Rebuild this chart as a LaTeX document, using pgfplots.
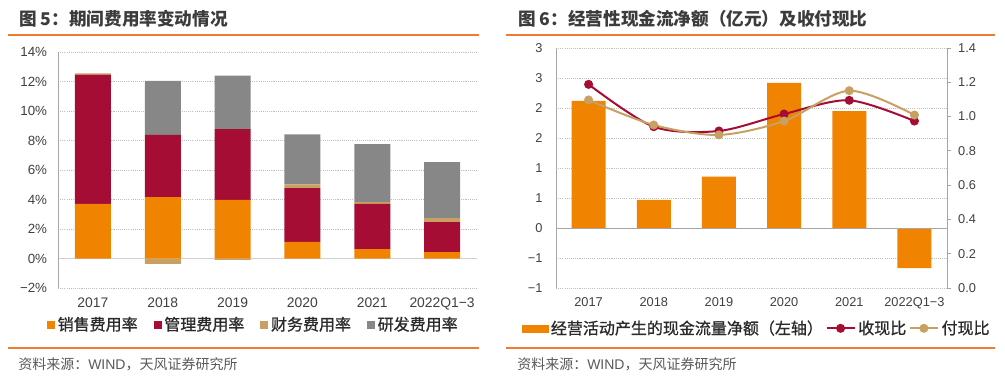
\documentclass[border=0pt]{standalone}
\usepackage{pgfplots}
\pgfplotsset{compat=1.18}
\usepackage{pgfplotstable}
\usepackage{fontspec}
\setmainfont{Liberation Sans}
\newfontfamily\cjk{Noto Sans CJK SC}
\newfontfamily\cjkm[FakeBold=0.9]{Noto Sans CJK SC}
\definecolor{cOr}{HTML}{F08300}
\definecolor{cRed}{HTML}{A50D34}
\definecolor{cTan}{HTML}{C8A064}
\definecolor{cGray}{HTML}{878787}
\definecolor{cTxt}{HTML}{404040}
\definecolor{cLeg}{HTML}{2A2A2A}
\definecolor{cTitle}{HTML}{3C3C3C}
\definecolor{cSrc}{HTML}{595959}
\definecolor{cLine}{HTML}{ED7D31}
\definecolor{cGrid}{HTML}{BFBFBF}
\definecolor{cAx}{HTML}{A6A6A6}
\definecolor{cZero}{HTML}{D0D0D0}

\pgfplotstableread{
x xiao guan cai yan caineg
0 3.70 8.75 0.11 0.00 0
1 4.16 4.23 0.00 3.66 -0.36
2 3.98 4.79 0.00 3.63 -0.10
3 1.13 3.64 0.25 3.39 0
4 0.63 3.08 0.11 3.93 0
5 0.43 2.03 0.27 3.80 0
}\feeTable

\pgfplotstableread{
x cash shou fu
0 2.12 1.188 1.097
1 0.47 0.941 0.951
2 0.855 0.916 0.893
3 2.42 1.015 0.974
4 1.95 1.095 1.151
5 -0.67 0.974 1.009
}\cashTable

\begin{document}
\begin{tikzpicture}
\begin{scope}[x=0.75pt,y=-0.75pt]
\path[use as bounding box] (0,0) rectangle (1005,380);
\coordinate (L0) at (58,288);
\coordinate (R0) at (556,288);
% titles
\node[anchor=west, inner sep=0pt, text=cTitle, font=\cjk\bfseries\fontsize{13.2}{15}\selectfont] at (19,19) {图 5：期间费用率变动情况};
\node[anchor=west, inner sep=0pt, text=cTitle, font=\cjk\bfseries\fontsize{13.2}{15}\selectfont] at (518,19) {图 6：经营性现金流净额（亿元）及收付现比};
\draw[cLine, line width=0.9pt] (8,35) -- (479,35);
\draw[cLine, line width=0.9pt] (506,35) -- (995,35);
\draw[cLine, line width=0.9pt] (8,348) -- (479,348);
\draw[cLine, line width=0.9pt] (506,348) -- (995,348);
\node[anchor=west, inner sep=0pt, text=cSrc, font=\fontsize{10.5}{12}\selectfont] at (18,364) {{\cjk 资料来源：}WIND{\cjk ，天风证券研究所}};
\node[anchor=west, inner sep=0pt, text=cSrc, font=\fontsize{10.5}{12}\selectfont] at (517,364) {{\cjk 资料来源：}WIND{\cjk ，天风证券研究所}};
\end{scope}

% ---------- left chart: negative finance cost part ----------
\begin{axis}[at={(L0)}, anchor=south west, scale only axis,
  width=314.25pt, height=177pt,
  xmin=-0.5, xmax=5.5, ymin=-2, ymax=14,
  ybar, bar width=27pt, bar shift=0pt, hide axis]
\addplot[fill=cTan, draw=none, forget plot] table[x=x,y=caineg]{\feeTable};
\end{axis}

% ---------- left chart: stacked ----------
\begin{axis}[at={(L0)}, anchor=south west, scale only axis,
  width=314.25pt, height=177pt,
  ybar stacked, bar width=27pt,
  xmin=-0.5, xmax=5.5, ymin=-2, ymax=14,
  xtick={0,...,5}, xticklabels={2017,2018,2019,2020,2021,2022Q1−3},
  ytick={-2,0,2,4,6,8,10,12,14},
  yticklabels={−2\%,0\%,2\%,4\%,6\%,8\%,10\%,12\%,14\%},
  axis line style={draw=none},
  major tick length=0pt,
  ymajorgrids, grid style={cGrid, dash pattern=on 0.8pt off 0.8pt, line width=0.6pt},
  ticklabel style={text=cTxt, font=\fontsize{10}{12}\selectfont},
  yticklabel style={inner xsep=0pt, xshift=-8pt},
  xticklabel style={yshift=-4pt, font=\fontsize{10.4}{12}\selectfont},
  legend image code/.code={\fill[#1] (0pt,-3pt) rectangle (6pt,3pt);},
  legend style={draw=none, fill=none, at={(0.467,-0.155)}, anchor=center,
    legend columns=-1, font=\cjkm\fontsize{12}{14}\selectfont, text=cLeg,
    /tikz/every even column/.append style={column sep=10pt},
    nodes={inner xsep=2pt}},
  legend cell align=left,
]
\addplot[fill=cOr, draw=none] table[x=x,y=xiao]{\feeTable};
\addlegendentry{销售费用率}
\addplot[fill=cRed, draw=none] table[x=x,y=guan]{\feeTable};
\addlegendentry{管理费用率}
\addplot[fill=cTan, draw=none] table[x=x,y=cai]{\feeTable};
\addlegendentry{财务费用率}
\addplot[fill=cGray, draw=none] table[x=x,y=yan]{\feeTable};
\addlegendentry{研发费用率}
\draw[cAx, line width=0.75pt] (rel axis cs:0,0) -- (rel axis cs:0,1);
\draw[cZero, line width=1.4pt] (axis cs:-0.5,0) -- (axis cs:5.5,0);
\end{axis}

% ---------- right chart: bars ----------
\begin{axis}[at={(R0)}, anchor=south west, scale only axis,
  width=293.25pt, height=180pt,
  ybar, bar width=25.5pt, bar shift=0pt,
  xmin=-0.5, xmax=5.5, ymin=-1, ymax=3,
  xtick={0,...,5}, xticklabels={2017,2018,2019,2020,2021,2022Q1−3},
  ytick={-1,-0.5,0,0.5,1,1.5,2,2.5,3},
  yticklabels={−1,−1,0,1,1,2,2,3,3},
  axis line style={draw=none},
  major tick length=0pt,
  ymajorgrids, grid style={cGrid, dash pattern=on 0.8pt off 0.8pt, line width=0.6pt},
  ticklabel style={text=cTxt, font=\fontsize{9.6}{11}\selectfont},
  yticklabel style={inner xsep=0pt, xshift=-10pt},
  xticklabel style={yshift=-4pt},
]
\addplot[fill=cOr, draw=none, forget plot] table[x=x,y=cash]{\cashTable};
\draw[cAx, line width=0.75pt] (rel axis cs:0,0) -- (rel axis cs:0,1);
\draw[cAx, line width=0.75pt] (axis cs:-0.5,0) -- (axis cs:5.5,0);
\end{axis}

% ---------- right chart: ratios ----------
\begin{axis}[at={(R0)}, anchor=south west, scale only axis,
  width=293.25pt, height=180pt,
  xmin=-0.5, xmax=5.5, ymin=0, ymax=1.4,
  axis x line=none, axis y line*=right,
  y axis line style={cAx, line width=0.75pt},
  ytick={0,0.2,...,1.4},
  /pgf/number format/fixed, /pgf/number format/fixed zerofill,
  /pgf/number format/precision=1, /pgf/number format/assume math mode=true,
  ticklabel style={text=cTxt, font=\fontsize{9.6}{11}\selectfont},
  tick align=outside, major tick length=3.2pt, tick style={cAx, line width=0.75pt},
  yticklabel style={inner xsep=0pt, xshift=5pt},
  legend image code/.code={\draw[mark repeat=2,mark phase=2,#1] plot coordinates {(0pt,0pt) (10.5pt,0pt) (21pt,0pt)};},
  legend style={draw=none, fill=none, at={(0.514,-0.168)}, anchor=center,
    legend columns=-1, font=\cjkm\fontsize{12}{14}\selectfont, text=cLeg,
    /tikz/every even column/.append style={column sep=0pt},
    nodes={inner xsep=2pt}},
  legend cell align=left,
]
\addlegendimage{legend image code/.code={\fill[cOr] (0pt,-2.6pt) rectangle (19.5pt,2.6pt);}}
\addlegendentry{经营活动产生的现金流量净额（左轴）}
\addplot[cRed, line width=1.5pt, smooth, mark=*, mark size=2.6pt, mark options={fill=cRed}] table[x=x,y=shou]{\cashTable};
\addlegendentry{收现比}
\addplot[cTan, line width=1.5pt, smooth, mark=*, mark size=2.6pt, mark options={fill=cTan}] table[x=x,y=fu]{\cashTable};
\addlegendentry{付现比}
\end{axis}
\end{tikzpicture}
\end{document}
